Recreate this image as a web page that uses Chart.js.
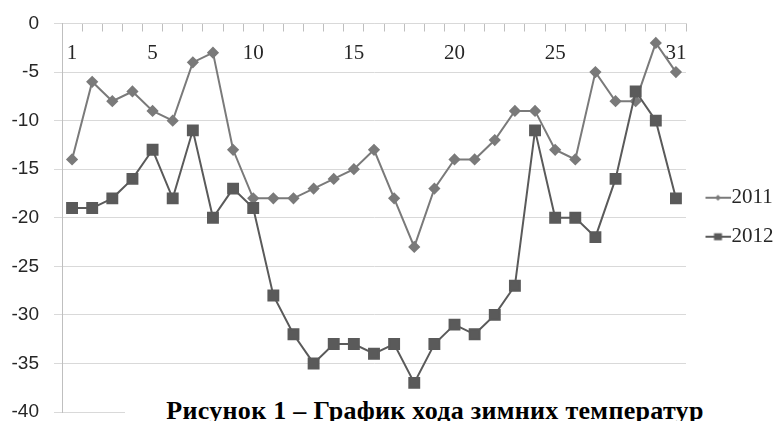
<!DOCTYPE html>
<html><head><meta charset="utf-8">
<script src="https://cdn.jsdelivr.net/npm/chart.js@4"></script>
<style>
html,body{margin:0;padding:0;background:#fff;}
#wrap{position:relative;width:775px;height:421px;overflow:hidden;}
#cap{position:absolute;left:125px;top:396px;width:620px;height:30px;background:#fff;font-family:"Liberation Serif";font-weight:bold;font-size:26px;letter-spacing:0.3px;line-height:30px;text-align:center;white-space:nowrap;color:#000;}
</style></head><body>
<div id="wrap"><canvas id="c"></canvas><div id="cap">Рисунок 1 – График хода зимних температур</div></div>
<script>
const days = [1,2,3,4,5,6,7,8,9,10,11,12,13,14,15,16,17,18,19,20,21,22,23,24,25,26,27,28,29,30,31];
const shownDayLabels = [1,5,10,15,20,25,31];
const temp2011 = [-14,-6,-8,-7,-9,-10,-4,-3,-13,-18,-18,-18,-17,-16,-15,-13,-18,-23,-17,-14,-14,-12,-9,-9,-13,-14,-5,-8,-8,-2,-5];
const temp2012 = [-19,-19,-18,-16,-13,-18,-11,-20,-17,-19,-28,-32,-35,-33,-33,-34,-33,-37,-33,-31,-32,-30,-27,-11,-20,-20,-22,-16,-7,-10,-18];
const seriesNames = ['2011','2012'];
const yMin = -40, yMax = 0, yStep = 5;

const colors = ['#7a7a7a','#5a5a5a'];
function makeIcon(style, color){
  const c = document.createElement('canvas');
  c.width = 36; c.height = 14;
  const g = c.getContext('2d');
  g.strokeStyle = color; g.lineWidth = 2;
  g.beginPath(); g.moveTo(11,7); g.lineTo(36,7); g.stroke();
  g.fillStyle = color;
  g.beginPath();
  if (style === 'diamond'){ g.moveTo(23.5,4); g.lineTo(26.5,7); g.lineTo(23.5,10); g.lineTo(20.5,7); g.closePath(); }
  else { g.rect(19.5,3.5,8,7); }
  g.fill();
  return c;
}
const icons = [makeIcon('diamond', colors[0]), makeIcon('square', colors[1])];

new Chart(document.getElementById('c'), {
  type: 'line',
  data: {
    labels: days.map(String),
    datasets: [
      {label: seriesNames[0], data: temp2011, borderColor: colors[0], backgroundColor: colors[0], borderWidth: 2, pointStyle: 'rectRot', pointRadius: 4.7, pointHoverRadius: 4.7, tension: 0, order: 1},
      {label: seriesNames[1], data: temp2012, borderColor: colors[1], backgroundColor: colors[1], borderWidth: 2, pointStyle: 'rect', pointRadius: 7, pointHoverRadius: 7, tension: 0, order: 0}
    ]
  },
  options: {
    responsive: true, maintainAspectRatio: false, animation: false,
    layout: {padding: {top: 13.5, right: -8.5, left: 0, bottom: 0}},
    plugins: {
      tooltip: {enabled: false},
      legend: {
        position: 'right',
        labels: {
          usePointStyle: true, pointStyleWidth: 17, padding: 18,
          font: {family: 'Liberation Serif', size: 21}, color: '#262626',
          generateLabels(chart){
            const items = Chart.defaults.plugins.legend.labels.generateLabels(chart);
            items.sort((a,b)=>a.datasetIndex-b.datasetIndex);
            items.forEach(it => { it.pointStyle = icons[it.datasetIndex]; });
            return items;
          }
        }
      }
    },
    scales: {
      x: {
        position: 'top', offset: true,
        afterFit(s){ s.height = 10; },
        grid: {drawOnChartArea: false, tickLength: -8, tickColor: '#bfbfbf', tickWidth: 1, offset: true},
        border: {color: '#d9d9d9'},
        ticks: {mirror: true, padding: 17, autoSkip: false, maxRotation: 0, font: {family: 'Liberation Serif', size: 21}, color: '#262626',
          callback(v, i){ const d = days[i]; return shownDayLabels.includes(d) ? String(d) : ''; }}
      },
      y: {
        min: yMin, max: yMax,
        afterFit(s){ s.width = 62; s.paddingTop = 0; s.paddingBottom = 9; },
        ticks: {stepSize: yStep, font: {family: 'Liberation Sans', size: 19}, color: '#262626', padding: 15},
        grid: {color: '#d9d9d9', tickLength: 8, tickColor: '#d9d9d9'},
        border: {color: '#bfbfbf'}
      }
    }
  }
});
</script>
</body></html>
